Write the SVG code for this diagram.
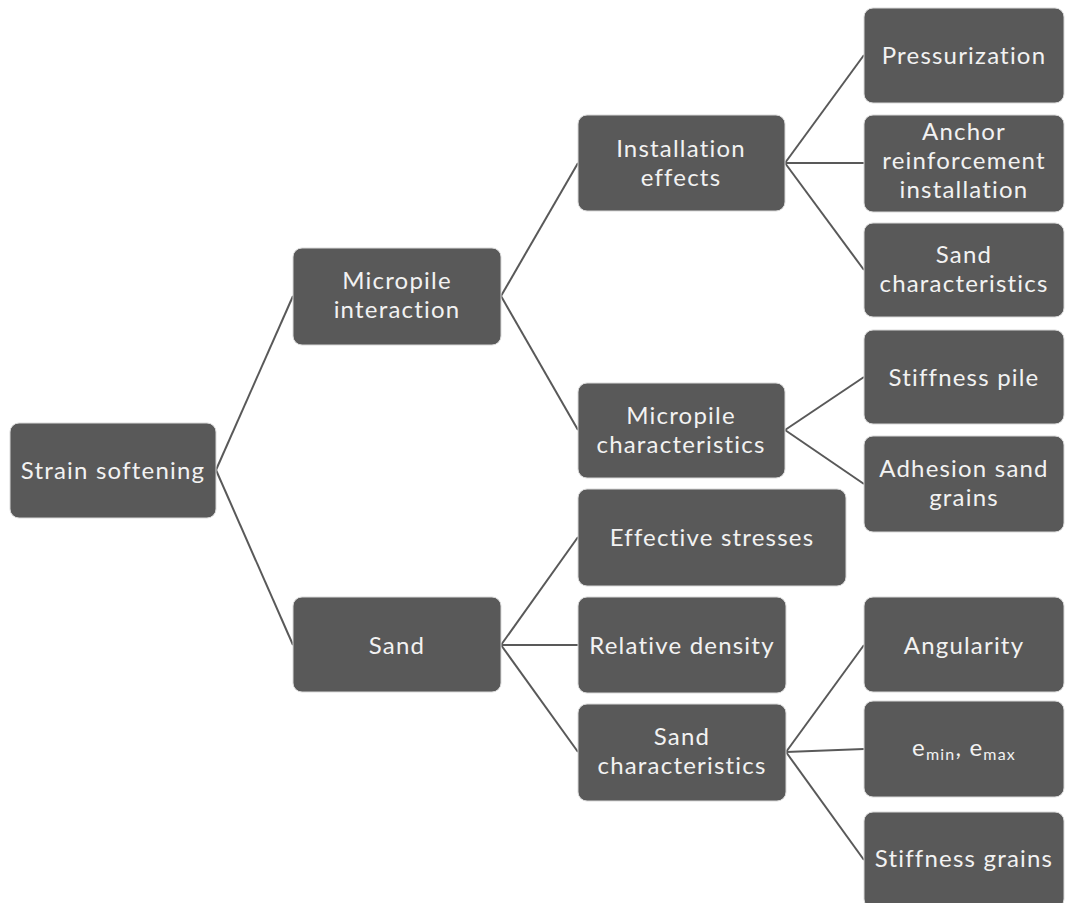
<svg xmlns="http://www.w3.org/2000/svg" width="1065" height="903" viewBox="0 0 1065 903">
<style>
.box{fill:#595959;stroke:#d9d9d9;stroke-width:1}
.t{font-family:Lato,"Open Sans","Liberation Sans",sans-serif;font-size:24px;letter-spacing:1.2px;fill:#f2f2f2;text-anchor:middle}
.c line{stroke:#595959;stroke-width:2}
</style>
<rect width="1065" height="903" fill="#ffffff"/>
<g class="c" id="connectors">
<line x1="216" y1="470" x2="293" y2="296"/>
<line x1="216" y1="470" x2="293" y2="645"/>
<line x1="501" y1="296" x2="578" y2="163"/>
<line x1="501" y1="296" x2="578" y2="430"/>
<line x1="501" y1="645" x2="578" y2="537"/>
<line x1="501" y1="645" x2="578" y2="645"/>
<line x1="501" y1="645" x2="578" y2="752"/>
<line x1="785" y1="163" x2="864" y2="55"/>
<line x1="785" y1="163" x2="864" y2="163"/>
<line x1="785" y1="163" x2="864" y2="270"/>
<line x1="785" y1="430" x2="864" y2="377"/>
<line x1="785" y1="430" x2="864" y2="484"/>
<line x1="786" y1="752" x2="864" y2="645"/>
<line x1="786" y1="752" x2="864" y2="749"/>
<line x1="786" y1="752" x2="864" y2="860"/>
</g>
<g id="n-strain"><rect class="box" x="10" y="423" width="206" height="95" rx="9"/><text class="t" x="113" y="479">Strain softening</text></g>
<g id="n-micropile-interaction"><rect class="box" x="293" y="248" width="208" height="97" rx="9"/><text class="t" x="397" y="289">Micropile</text><text class="t" x="397" y="318">interaction</text></g>
<g id="n-sand"><rect class="box" x="293" y="597" width="208" height="95" rx="9"/><text class="t" x="397" y="654">Sand</text></g>
<g id="n-installation"><rect class="box" x="578" y="115" width="207" height="96" rx="9"/><text class="t" x="681" y="157">Installation</text><text class="t" x="681" y="186">effects</text></g>
<g id="n-micropile-char"><rect class="box" x="578" y="383" width="207" height="95" rx="9"/><text class="t" x="681" y="424">Micropile</text><text class="t" x="681" y="453">characteristics</text></g>
<g id="n-effective"><rect class="box" x="578" y="489" width="268" height="97" rx="9"/><text class="t" x="712" y="546">Effective stresses</text></g>
<g id="n-relative"><rect class="box" x="578" y="597" width="208" height="96" rx="9"/><text class="t" x="682" y="654">Relative density</text></g>
<g id="n-sand-char"><rect class="box" x="578" y="704" width="208" height="97" rx="9"/><text class="t" x="682" y="745">Sand</text><text class="t" x="682" y="774">characteristics</text></g>
<g id="n-pressurization"><rect class="box" x="864" y="8" width="200" height="95" rx="9"/><text class="t" x="964" y="64">Pressurization</text></g>
<g id="n-anchor"><rect class="box" x="864" y="115" width="200" height="97" rx="9"/><text class="t" x="964" y="140">Anchor</text><text class="t" x="964" y="169">reinforcement</text><text class="t" x="964" y="198">installation</text></g>
<g id="n-sand-char2"><rect class="box" x="864" y="223" width="200" height="94" rx="9"/><text class="t" x="964" y="263">Sand</text><text class="t" x="964" y="292">characteristics</text></g>
<g id="n-stiffness-pile"><rect class="box" x="864" y="330" width="200" height="94" rx="9"/><text class="t" x="964" y="386">Stiffness pile</text></g>
<g id="n-adhesion"><rect class="box" x="864" y="436" width="200" height="96" rx="9"/><text class="t" x="964" y="477">Adhesion sand</text><text class="t" x="964" y="506">grains</text></g>
<g id="n-angularity"><rect class="box" x="864" y="597" width="200" height="95" rx="9"/><text class="t" x="964" y="654">Angularity</text></g>
<g id="n-emin"><rect class="box" x="864" y="701" width="200" height="96" rx="9"/><text class="t" x="964" y="756" letter-spacing="0">e<tspan font-size="16" dy="4">min</tspan><tspan dy="-4">, e</tspan><tspan font-size="16" dy="4">max</tspan></text></g>
<g id="n-stiffness-grains"><rect class="box" x="864" y="812" width="200" height="96" rx="9"/><text class="t" x="964" y="867">Stiffness grains</text></g>
</svg>
